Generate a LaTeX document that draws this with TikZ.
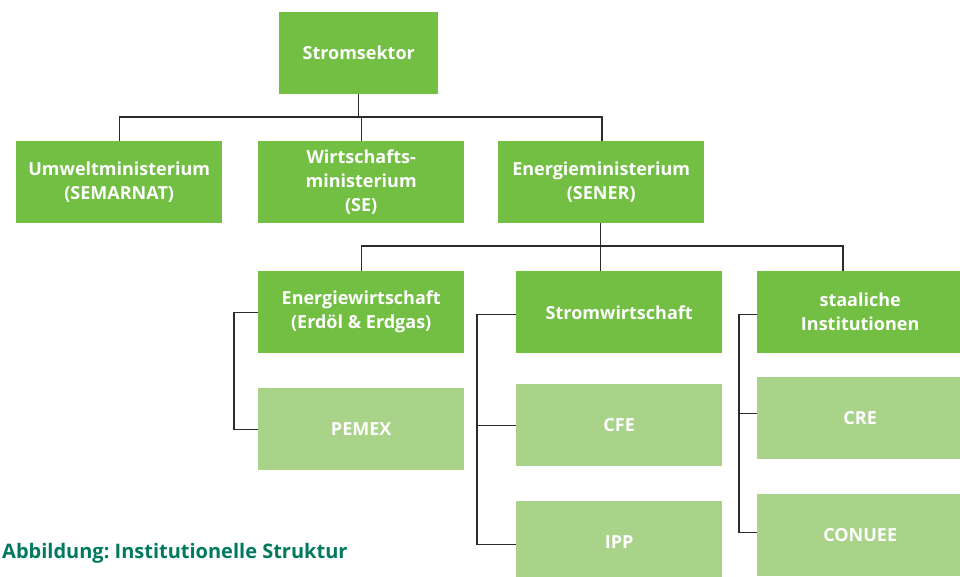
\documentclass[tikz,border=0pt]{standalone}
\usepackage{fontspec}
\setmainfont{Open Sans}
\frenchspacing
\definecolor{dgreen}{RGB}{114,191,68}
\definecolor{lgreen}{RGB}{170,211,138}
\definecolor{capgreen}{RGB}{0,122,94}
\definecolor{linegray}{RGB}{43,43,43}
\tikzset{
  boxbase/.style={anchor=north west, minimum width=206pt, minimum height=82pt, inner sep=2pt, align=center, text=white, font=\fontsize{18}{24}\selectfont\bfseries},
  dbox/.style={boxbase, fill=dgreen},
  lbox/.style={boxbase, fill=lgreen},
  conn/.style={draw=linegray, line width=1.3pt},
}
\begin{document}
\begin{tikzpicture}[x=1pt,y=-1pt]
\useasboundingbox (0,0) rectangle (960,576);
\begin{scope}
\clip (0,0) rectangle (960,576);
\node[dbox, minimum width=159pt] (strom) at (279,12) {Stromsektor};
\node[dbox] (um) at (16,141) {Umweltministerium\\(SEMARNAT)};
\node[dbox] (wi) at (258,141) {Wirtschafts-\\ministerium\\(SE)};
\node[dbox] (en) at (498,141) {Energieministerium\\(SENER)};
\node[dbox] (ew) at (258,271) {Energiewirtschaft\\(Erdöl \& Erdgas)};
\node[lbox] (pe) at (258,388) {PEMEX};
\node[dbox] (sw) at (516,271) {Stromwirtschaft};
\node[lbox] (cfe) at (516,384) {CFE};
\node[lbox] (ipp) at (516,501) {IPP};
\node[dbox] (si) at (757,271) {staaliche\\Institutionen};
\node[lbox] (cre) at (757,377) {CRE};
\node[lbox] (co) at (757,494) {CONUEE};
\end{scope}
\coordinate (j1) at (602,117);
\coordinate (j2) at (843,246);
% top level
\draw[conn] (strom.south) -- (strom.south |- j1);
\draw[conn] (um.north) |- (j1) -- (j1 |- en.north);
\draw[conn] (wi.north) -- (wi.north |- j1);
% second level
\draw[conn] ([xshift=-1pt]en.south) -- ([xshift=-1pt]en.south |- sw.north);
\draw[conn] (ew.north) |- (j2) -- (j2 |- si.north);
% brackets
\draw[conn] (ew.west) -- ++(-24,0) |- (pe.west);
\draw[conn] ([yshift=-2pt]sw.west) -- ++(-39,0) |- (cfe.west);
\draw[conn] ([xshift=-39pt]cfe.west) |- ([yshift=-2pt]ipp.west);
\draw[conn] ([yshift=-2pt]si.west) -- ++(-18,0) |- ([yshift=5pt]cre.west);
\draw[conn] ([xshift=-18pt,yshift=5pt]cre.west) |- ([yshift=3pt]co.west);
% caption
\node[anchor=base west, inner sep=0pt, text=capgreen, font=\fontsize{20}{22}\selectfont\bfseries] (cap) at (2,558) {Abbildung: Institutionelle Struktur};
\end{tikzpicture}
\end{document}
